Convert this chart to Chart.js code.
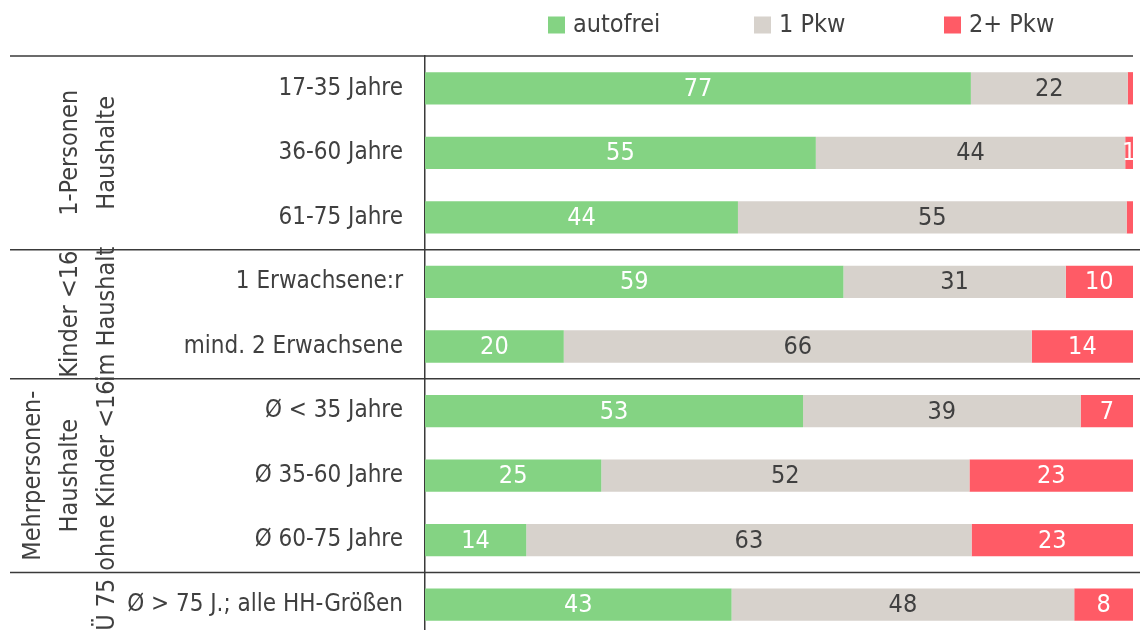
<!DOCTYPE html>
<html lang="de">
<head>
<meta charset="utf-8">
<title>Pkw-Besitz nach Haushaltstyp</title>
<script src="https://cdn.jsdelivr.net/npm/chart.js@4.4.1/dist/chart.umd.min.js"></script>
<style>
    html, body { margin: 0; padding: 0; background: #fff; overflow: hidden; }
    .chart-box { position: relative; width: 1140px; height: 637px; }
</style>
</head>
<body>
<div class="chart-box"><canvas id="chart"></canvas></div>
<script>
(function () {
    "use strict";

    // Zeilen
    var categories = ["17-35 Jahre", "36-60 Jahre", "61-75 Jahre", "1 Erwachsene:r", "mind. 2 Erwachsene",
        "Ø < 35 Jahre", "Ø 35-60 Jahre", "Ø 60-75 Jahre", "Ø > 75 J.; alle HH-Größen"];

    // Anteile in %
    var autofrei = [77.1, 55.2, 44.2, 59.1, 19.6, 53.4, 24.9, 14.3, 43.3];
    var einPkw = [22.15, 43.7, 54.9, 31.4, 66.1, 39.2, 52.0, 62.9, 48.4];
    var zweiPkw = [0.75, 1.1, 0.9, 9.5, 14.3, 7.4, 23.1, 22.8, 8.3];

    var seriesNames = ["autofrei", "1 Pkw", "2+ Pkw"];

    // Gruppen links (Textzeilen, Anzahl Zeilen im Diagramm)
    var groupLabels = [["1-Personen", "Haushalte"], ["Kinder <16", "im Haushalt"],
        ["Mehrpersonen-", "Haushalte", "ohne Kinder <16"], ["Ü 75"]];
    var groupSizes = [3, 2, 3, 1];


    var FONT = '"Liberation Sans Narrow", "DejaVu Sans Condensed", Roboto, sans-serif';
    var FSIZE = 25;
    var TEXT = "#404040";
    var colors = ["#84d383", "#d7d2cc", "#ff5b66"];
    var labelColors = ["#ffffff", "#404040", "#ffffff"];
    var legendX = [548, 754, 944];


    // Werte, Linien, Gruppen und Legende
    var decor = {
        id: "decor",
        afterDatasetsDraw: function (chart) {
            var ctx = chart.ctx;
            ctx.save();
            ctx.font = FSIZE + "px " + FONT;
            ctx.textAlign = "center";
            ctx.textBaseline = "middle";
            chart.data.datasets.forEach(function (ds, di) {
                chart.getDatasetMeta(di).data.forEach(function (bar, i) {
                    var v = ds.data[i];
                    if (v < 1) return;
                    ctx.fillStyle = labelColors[di];
                    ctx.fillText(Math.round(v), (bar.x + bar.base) / 2, bar.y + 1);
                });
            });
            ctx.restore();
        },
        afterDraw: function (chart) {
            var ctx = chart.ctx;
            var y = chart.scales.y;
            var area = chart.chartArea;
            var band = y.getPixelForValue(1) - y.getPixelForValue(0);

            ctx.save();
            ctx.strokeStyle = "#3a3a3a";
            ctx.lineWidth = 1.5;
            ctx.font = FSIZE + "px " + FONT;

            // Trennlinien + Gruppentitel
            var start = 0;
            groupSizes.forEach(function (n, g) {
                var top = y.getPixelForValue(start) - band / 2;
                var bottom = Math.min(y.getPixelForValue(start + n - 1) + band / 2, area.bottom);
                ctx.beginPath();
                ctx.moveTo(10, top);
                ctx.lineTo(g === 0 ? area.right : chart.width, top);
                ctx.stroke();

                var lines = groupLabels[g];
                var cy = (top + bottom) / 2;
                ctx.fillStyle = TEXT;
                ctx.textAlign = "center";
                ctx.textBaseline = "middle";
                lines.forEach(function (t, j) {
                    var x = 107 - (lines.length - 1 - j) * 37;
                    ctx.save();
                    ctx.translate(x, cy);
                    ctx.rotate(-Math.PI / 2);
                    ctx.fillText(t, 0, 0);
                    ctx.restore();
                });
                start += n;
            });

            // Legende
            ctx.textAlign = "left";
            ctx.textBaseline = "middle";
            seriesNames.forEach(function (name, i) {
                ctx.fillStyle = colors[i];
                ctx.fillRect(legendX[i], 16.5, 17, 17);
                ctx.fillStyle = TEXT;
                ctx.fillText(name, legendX[i] + 25, 25);
            });
            ctx.restore();
        }
    };


    var ctx = document.getElementById("chart").getContext("2d");
    var myChart = new Chart(ctx, {
        type: "bar",
        data: {
            labels: categories,
            datasets: [autofrei, einPkw, zweiPkw].map(function (d, i) {
                return {
                    label: seriesNames[i],
                    data: d,
                    backgroundColor: colors[i],
                    borderWidth: 0,
                    categoryPercentage: 1,
                    barPercentage: 0.5
                };
            })
        },
        options: {
            indexAxis: "y",
            responsive: true,
            maintainAspectRatio: false,
            animation: false,
            layout: { padding: { top: 56, right: 7, bottom: 0, left: 0 } },
            plugins: {
                legend: { display: false },
                tooltip: { enabled: false }
            },
            scales: {
                x: { stacked: true, min: 0, max: 100, display: false },
                y: {
                    stacked: true,
                    grid: { display: false, drawTicks: false },
                    border: { display: true, color: "#3a3a3a", width: 1.5 },
                    ticks: { color: TEXT, font: { family: FONT, size: 24 }, padding: 22 },
                    afterFit: function (scale) {
                        scale.width = 425;
                        scale.paddingTop = 0;
                        scale.paddingBottom = 0;
                    }
                }
            }
        },
        plugins: [decor]
    });
})();
</script>
</body>
</html>
